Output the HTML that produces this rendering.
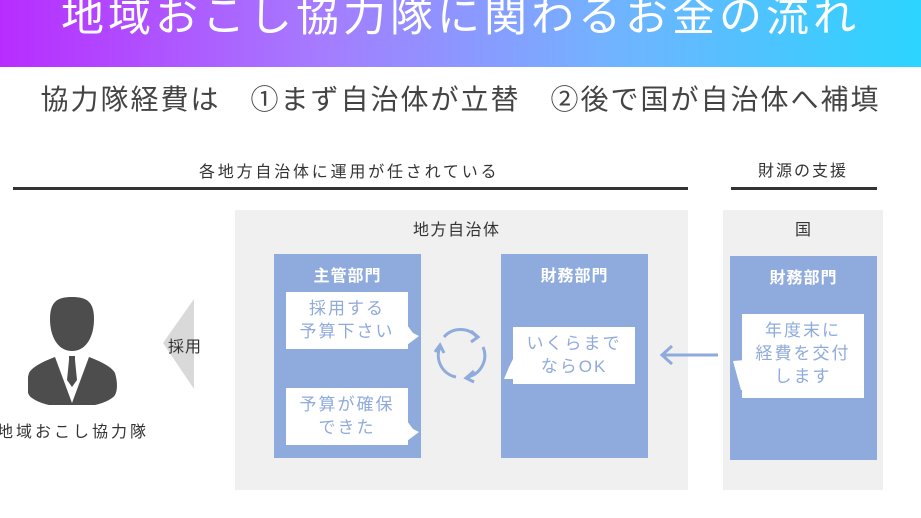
<!DOCTYPE html>
<html><head><meta charset="utf-8"><style>
*{margin:0;padding:0;box-sizing:border-box}
body{width:921px;height:518px;overflow:hidden;background:#fff;position:relative;font-family:"Liberation Sans","Noto Sans CJK JP",sans-serif}
.a{position:absolute}
.hdr{left:0;top:0;width:921px;height:67px;background:linear-gradient(90deg,#b82cff 0%,#a57cff 35%,#74b1ff 65%,#2bd5ff 100%)}
.title{left:0;width:921px;top:-5px;line-height:44px;text-align:center;color:#fff;font-size:43px;letter-spacing:4px;white-space:nowrap}
.sub{left:0;width:921px;top:78px;text-align:center;color:#444;font-size:28px;letter-spacing:2px;white-space:nowrap}
.t16{font-size:16px;color:#333;letter-spacing:1.5px;white-space:nowrap}
.gray{background:#f0f0f0}
.blue{background:#8faadc}
.bh{color:#fff;font-size:16px;font-weight:bold;text-align:center;width:100%;top:8px;letter-spacing:1px}
.bub{background:#fff;color:#8faadc;font-size:17px;line-height:23px;text-align:center;letter-spacing:2px}
</style></head><body>
<div class="a hdr"></div>
<div class="a title">地域おこし協力隊に関わるお金の流れ</div>
<div class="a sub">協力隊経費は　①まず自治体が立替　②後で国が自治体へ補填</div>

<div class="a t16" style="left:199px;top:158px;letter-spacing:2.8px">各地方自治体に運用が任されている</div>
<div class="a" style="left:13px;top:187px;width:675px;height:3px;background:#333"></div>
<div class="a t16" style="left:758px;top:157px;letter-spacing:2px">財源の支援</div>
<div class="a" style="left:731px;top:187px;width:146px;height:3px;background:#333"></div>

<div class="a gray" style="left:235px;top:210px;width:453px;height:280px"></div>
<div class="a t16" style="left:413px;top:216px">地方自治体</div>
<div class="a gray" style="left:723px;top:210px;width:160px;height:280px"></div>
<div class="a t16" style="left:795px;top:216px">国</div>

<div class="a blue" style="left:274px;top:254px;width:147px;height:204px"><div class="a bh">主管部門</div></div>
<div class="a bub" style="left:286px;top:292px;width:122px;height:57px;padding-top:5px">採用する<br>予算下さい</div>
<svg class="a" style="left:407px;top:325px" width="14" height="20"><polygon points="0,0 6,8 12,11 0,20" fill="#fff"/></svg>
<div class="a bub" style="left:286px;top:388px;width:122px;height:57px;padding-top:5px">予算が確保<br>できた</div>
<svg class="a" style="left:407px;top:421px" width="14" height="20"><polygon points="0,0 6,8 12,11 0,20" fill="#fff"/></svg>

<div class="a blue" style="left:501px;top:254px;width:147px;height:204px"><div class="a bh">財務部門</div></div>
<div class="a bub" style="left:513px;top:327px;width:122px;height:57px;padding-top:5px">いくらまで<br>ならOK</div>
<svg class="a" style="left:500px;top:357px" width="14" height="22"><polygon points="14,0 14,22 4,22 9,10" fill="#fff"/></svg>

<svg class="a" style="left:430px;top:325px" width="62" height="62" fill="none" stroke="#8faadc" stroke-width="3">
<path d="M14 12 A22 22 0 0 1 47 12"/><polyline points="41,6 48,12 41,17"/>
<path d="M53 22 A22 22 0 0 1 38 52"/><polyline points="44,46 36,53 44,57"/>
<path d="M26 52 A22 22 0 0 1 10 22"/><polyline points="5,27 10,20 14,28"/>
</svg>

<svg class="a" style="left:658px;top:343px" width="62" height="24" fill="none" stroke="#8faadc" stroke-width="3"><line x1="4" y1="12" x2="60" y2="12"/><polyline points="14,3 4,12 14,21"/></svg>

<div class="a blue" style="left:730px;top:256px;width:147px;height:204px"><div class="a bh">財務部門</div></div>
<div class="a bub" style="left:742px;top:314px;width:122px;height:84px;padding-top:5px">年度末に<br>経費を交付<br>します</div>
<svg class="a" style="left:733px;top:360px" width="12" height="30"><polygon points="12,0 12,30 8,30 0,1" fill="#fff"/></svg>

<svg class="a" style="left:28px;top:297px" width="90" height="108" fill="#4d4d4d">
<path d="M22 22 C22 4 30 0 44 0 C58 0 66 4 66 22 C66 40 58 54 44 54 C30 54 22 40 22 22Z"/>
<path d="M27 60 L44 106 L61 60 C72 64 84 70 87 76 C90 86 90 98 84 101 C74 108 60 110 44 110 C28 110 14 108 4 101 C-2 98 -2 86 1 76 C4 70 16 64 27 60Z"/>
<rect x="41" y="59" width="6" height="4"/>
<polygon points="41,63 47,63 49,83 44,90 39,83"/>
</svg>
<div class="a t16" style="left:-3px;top:418px;color:#333;letter-spacing:3px">地域おこし協力隊</div>

<svg class="a" style="left:163px;top:299px" width="33" height="90"><polygon points="0,44 31,0 31,90" fill="#d9d9d9"/></svg>
<div class="a t16" style="left:168px;top:333px;letter-spacing:1px">採用</div>
</body></html>
